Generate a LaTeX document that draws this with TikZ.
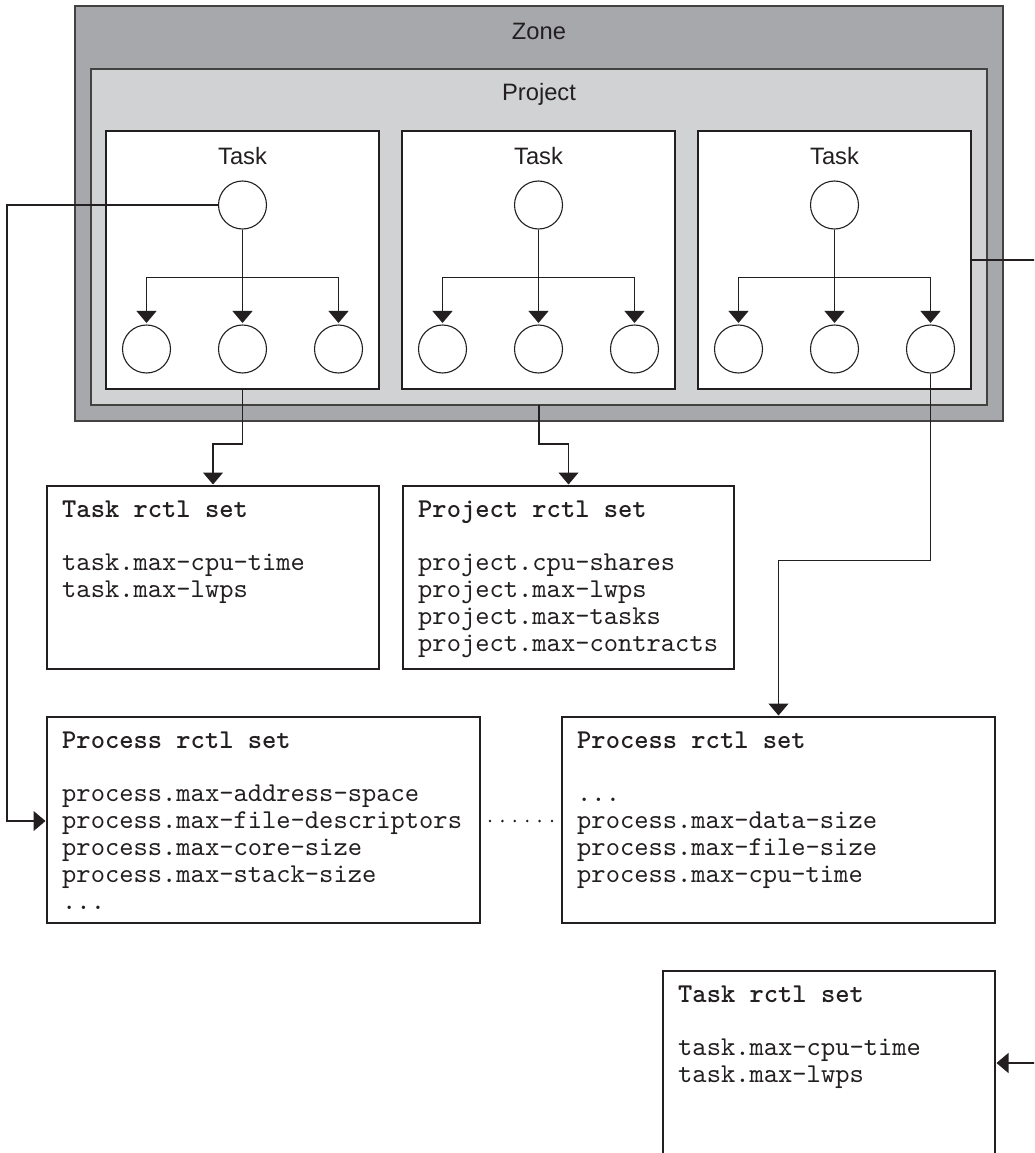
\documentclass[tikz,border=0pt]{standalone}
\usepackage{fontspec}
\setmainfont{Liberation Sans}
\newfontfamily\cour{lmmono10-regular.otf}[BoldFont=lmmonolt10-bold.otf]
\usetikzlibrary{arrows.meta,calc}
\definecolor{zonegray}{HTML}{A7A8AB}
\definecolor{projgray}{HTML}{D1D2D4}
\definecolor{ink}{HTML}{231F20}
\begin{document}
\begin{tikzpicture}[x=1pt,y=-1pt,
  box/.style={rectangle,inner sep=0pt,outer sep=0pt,anchor=north west},
  zonebox/.style={box,fill=zonegray,draw=ink!85,line width=1.3pt},
  projbox/.style={box,fill=projgray,draw=ink!85,line width=1.3pt},
  taskbox/.style={box,fill=white,draw=ink,line width=2.8pt,minimum width=273pt,minimum height=258pt},
  rbox/.style={box,fill=white,draw=ink,line width=2.4pt},
  proc/.style={circle,draw=ink,line width=1.1pt,fill=white,minimum size=48pt,inner sep=0pt},
  lbl/.style={font=\fontsize{23.7pt}{28pt}\selectfont,anchor=base,inner sep=0pt,text=ink},
  mono/.style={font=\cour\fontsize{27.2pt}{27pt}\selectfont,anchor=base west,inner sep=0pt,text=ink},
  monob/.style={font=\cour\bfseries\fontsize{27.2pt}{27pt}\selectfont,anchor=base west,inner sep=0pt,text=ink},
  arr/.style={-{Triangle[width=20pt,length=12pt]},line width=1.2pt,draw=ink,shorten >=1.5pt},
  conn/.style={line width=1.2pt,draw=ink},
  dots/.style={line width=2.8pt,draw=ink,line cap=round,dash pattern=on 0pt off 12.4pt}
]
\useasboundingbox (0,0) rectangle (1034,1153);
\clip (0,0) rectangle (1034,1153);
\fill[white] (0,0) rectangle (1034,1153);

% Zone and project
\node[zonebox,minimum width=928pt,minimum height=415pt] (zone) at (75,6) {};
\node[lbl] (zonelbl) at (539,40) {Zone};
\node[projbox,minimum width=896pt,minimum height=336pt] (proj) at (91,69) {};
\node[lbl] (projlbl) at (539,101) {Project};

% Tasks
\foreach \i/\x in {1/106,2/402,3/698}{
  \node[taskbox] (tk\i) at (\x,131) {};
  \node[lbl] (tl\i) at ($(\x,164)+(136.5,0)$) {Task};
  \node[proc] (r\i) at ($(\x,205)+(136.5,0)$) {};
  \node[proc] (c\i a) at ($(\x,349)+(40.5,0)$) {};
  \node[proc] (c\i b) at ($(\x,349)+(136.5,0)$) {};
  \node[proc] (c\i c) at ($(\x,349)+(232.5,0)$) {};
  \draw[arr] (r\i.south) -- (c\i b.north);
  \draw[arr] (r\i.south) -- ++(0,48) -| (c\i a.north);
  \draw[arr] (r\i.south) -- ++(0,48) -| (c\i c.north);
}

% rctl boxes
\node[rbox,minimum width=332pt,minimum height=183pt] (tr1) at (47,486) {};
\node[monob] (tr1h) at (62,517) {Task rctl set};
\node[mono] (tr1a) at (62,570) {task.max-cpu-time};
\node[mono] (tr1b) at (62,597) {task.max-lwps};

\node[rbox,minimum width=331pt,minimum height=183pt] (pr) at (403,486) {};
\node[monob] (prh) at (418,517) {Project rctl set};
\node[mono] (pra) at (418,570) {project.cpu-shares};
\node[mono] (prb) at (418,597) {project.max-lwps};
\node[mono] (prc) at (418,624) {project.max-tasks};
\node[mono] (prd) at (418,651) {project.max-contracts};

\node[rbox,minimum width=433pt,minimum height=206pt] (p1) at (47,717) {};
\node[monob] (p1h) at (62,748) {Process rctl set};
\node[mono] (p1a) at (62,801) {process.max-address-space};
\node[mono] (p1b) at (62,828) {process.max-file-descriptors};
\node[mono] (p1c) at (62,855) {process.max-core-size};
\node[mono] (p1d) at (62,882) {process.max-stack-size};
\node[mono] (p1e) at (62,909) {...};

\node[rbox,minimum width=433pt,minimum height=206pt] (p2) at (562,717) {};
\node[monob] (p2h) at (577,748) {Process rctl set};
\node[mono] (p2a) at (577,801) {...};
\node[mono] (p2b) at (577,828) {process.max-data-size};
\node[mono] (p2c) at (577,855) {process.max-file-size};
\node[mono] (p2d) at (577,882) {process.max-cpu-time};

\node[rbox,minimum width=332pt,minimum height=230pt] (tr2) at (663,971) {};
\node[monob] (tr2h) at (678,1002) {Task rctl set};
\node[mono] (tr2a) at (678,1055) {task.max-cpu-time};
\node[mono] (tr2b) at (678,1082) {task.max-lwps};

% connectors
\coordinate (lc) at (7,821);
\draw[arr] (r1.west) -| (lc) -- (lc -| p1.west);
\draw[arr] (tk1.south) -- ++(0,55) -| (tr1.north);
\draw[arr] (proj.south) -- ++(0,39) -| (pr.north);
\draw[arr] (c3c.south) -- ++(0,187) -| (p2.north);
\coordinate (re1) at (1040,260);
\draw[conn] (tk3.east) -- (re1);
\coordinate (re2) at (1040,1063);
\draw[arr] (re2) -- (tr2.east |- re2);
\coordinate (dl) at (490,821);
\draw[dots] (dl) -- (dl -| p2.west);
\end{tikzpicture}
\end{document}
